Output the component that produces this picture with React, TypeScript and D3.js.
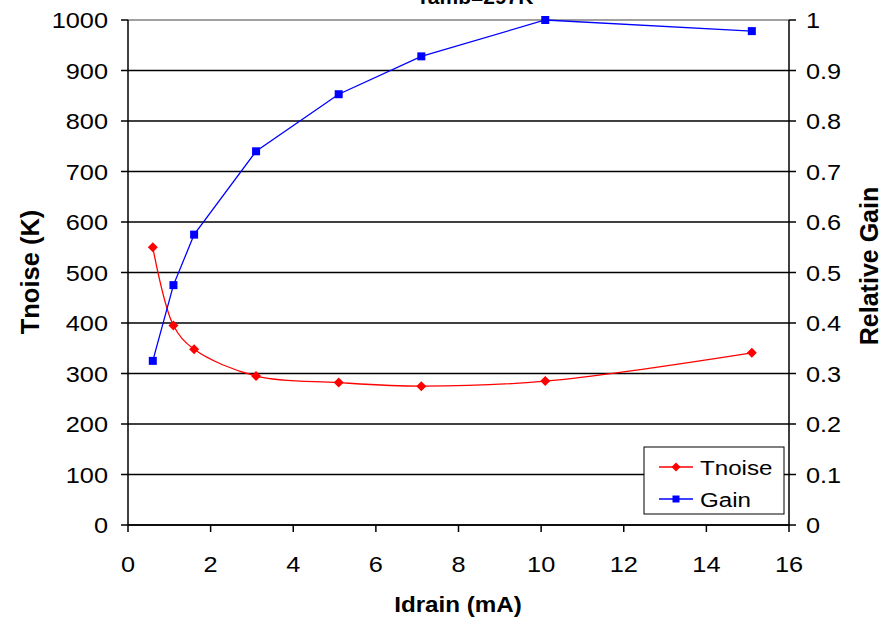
import React from "react";
import * as d3 from "d3";

const idrain = [0.6, 1.1, 1.6, 3.1, 5.1, 7.1, 10.1, 15.1];
const tnoise = [550, 395, 348, 295, 282, 275, 285, 341];
const gain = [0.325, 0.475, 0.575, 0.74, 0.853, 0.928, 1.0, 0.978];
const xTicks = [0, 2, 4, 6, 8, 10, 12, 14, 16];
const yLeftTicks = [0, 100, 200, 300, 400, 500, 600, 700, 800, 900, 1000];
const yRightTicks = [0, 0.1, 0.2, 0.3, 0.4, 0.5, 0.6, 0.7, 0.8, 0.9, 1];

const W = 883;
const H = 619;
const L = 128, R = 789, T = 20, B = 525;
const FONT = "'Liberation Sans', Arial, sans-serif";
const SX = 1.15;

function SText(props: { x: number; y: number; anchor?: string; size: number; bold?: boolean; sx?: number; children: React.ReactNode }) {
  const { x, y, anchor = "start", size, bold, sx = SX, children } = props;
  return (
    <text
      transform={`translate(${x},${y}) scale(${sx},1)`}
      textAnchor={anchor}
      fontSize={size}
      fontWeight={bold ? "bold" : "normal"}
    >
      {children}
    </text>
  );
}

export default function App() {
  const x = d3.scaleLinear().domain([0, 16]).range([L, R]);
  const yL = d3.scaleLinear().domain([0, 1000]).range([B, T]);
  const yR = d3.scaleLinear().domain([0, 1]).range([B, T]);

  const noisePts: [number, number][] = idrain.map((d, i) => [x(d), yL(tnoise[i])]);
  const gainPts: [number, number][] = idrain.map((d, i) => [x(d), yR(gain[i])]);
  const noiseLine = d3.line().curve(d3.curveCatmullRom.alpha(0.5))(noisePts) || "";
  const gainLine = d3.line().curve(d3.curveLinear)(gainPts) || "";

  const diamond = (cx: number, cy: number, r = 5) =>
    `M${cx},${cy - r}L${cx + r},${cy}L${cx},${cy + r}L${cx - r},${cy}Z`;

  const lx = 644, ly = 447, lw = 140, lh = 67;

  return (
    <svg width={W} height={H} style={{ position: "absolute", left: 0, top: 0, background: "#fff" }} fontFamily={FONT}>
      <rect x={0} y={0} width={W} height={H} fill="#fff" />
      {/* gridlines */}
      {yLeftTicks.map((t) => (
        <line key={"g" + t} x1={L} x2={R} y1={yL(t)} y2={yL(t)} stroke={t === 1000 ? "#808080" : "#000"} strokeWidth={1.5} />
      ))}
      {/* axes */}
      <line x1={L} x2={L} y1={T} y2={B} stroke="#000" strokeWidth={1.5} />
      <line x1={R} x2={R} y1={T} y2={B} stroke="#000" strokeWidth={1.5} />
      <line x1={L} x2={R} y1={B} y2={B} stroke="#000" strokeWidth={1.5} />
      {/* left ticks */}
      {yLeftTicks.map((t) => (
        <g key={"lt" + t}>
          <line x1={L - 7} x2={L} y1={yL(t)} y2={yL(t)} stroke="#000" strokeWidth={1.5} />
          <SText x={108} y={yL(t) + 8} anchor="end" size={22}>{t}</SText>
        </g>
      ))}
      {/* right ticks */}
      {yRightTicks.map((t) => (
        <g key={"rt" + t}>
          <line x1={R} x2={R + 7} y1={yR(t)} y2={yR(t)} stroke="#000" strokeWidth={1.5} />
          <SText x={806} y={yR(t) + 8} size={22}>{d3.format("~g")(t)}</SText>
        </g>
      ))}
      {/* x ticks */}
      {xTicks.map((t) => (
        <g key={"xt" + t}>
          <line x1={x(t)} x2={x(t)} y1={B} y2={B + 7} stroke="#000" strokeWidth={1.5} />
          <SText x={x(t)} y={572} anchor="middle" size={22}>{t}</SText>
        </g>
      ))}
      {/* series */}
      <path d={noiseLine} fill="none" stroke="#ff0000" strokeWidth={1.3} />
      <path d={gainLine} fill="none" stroke="#0000ff" strokeWidth={1.3} />
      {noisePts.map(([cx, cy], i) => (
        <path key={"n" + i} d={diamond(cx, cy)} fill="#ff0000" />
      ))}
      {gainPts.map(([cx, cy], i) => (
        <rect key={"s" + i} x={cx - 4} y={cy - 4} width={8} height={8} fill="#0000ff" />
      ))}
      {/* titles */}
      <SText x={475} y={4} anchor="middle" size={20} bold sx={1.05}>Tamb=297K</SText>
      <SText x={458} y={612} anchor="middle" size={22} bold sx={1.1}>Idrain (mA)</SText>
      <text transform={`translate(39,272) rotate(-90)`} textAnchor="middle" fontSize={25.5} fontWeight="bold">Tnoise (K)</text>
      <text transform={`translate(878,266) rotate(-90)`} textAnchor="middle" fontSize={25} fontWeight="bold">Relative Gain</text>
      {/* legend */}
      <rect x={lx} y={ly} width={lw} height={lh} fill="#fff" stroke="#000" strokeWidth={1} />
      <line x1={lx + 15} x2={lx + 49} y1={467} y2={467} stroke="#ff0000" strokeWidth={1.3} />
      <path d={diamond(lx + 32, 467, 4.5)} fill="#ff0000" />
      <SText x={lx + 56} y={475} size={21}>Tnoise</SText>
      <line x1={lx + 15} x2={lx + 49} y1={499} y2={499} stroke="#0000ff" strokeWidth={1.3} />
      <rect x={lx + 28.5} y={495.5} width={7} height={7} fill="#0000ff" />
      <SText x={lx + 56} y={507} size={21}>Gain</SText>
    </svg>
  );
}
